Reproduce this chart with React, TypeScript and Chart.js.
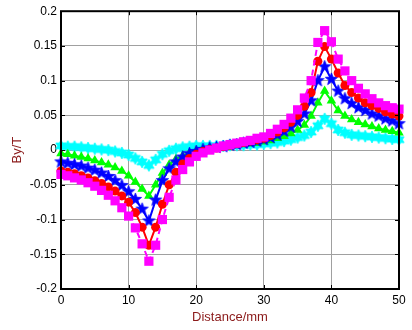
import React, { useEffect, useRef } from "react";
import { Chart, registerables } from "chart.js";

Chart.register(...registerables);

const distance = [
  0, 1, 2, 3, 4, 5, 6, 7, 8, 9, 10, 11, 12, 13, 14, 15, 16, 17, 18, 19, 20,
  21, 22, 23, 24, 25, 26, 27, 28, 29, 30, 31, 32, 33, 34, 35, 36, 37, 38, 39,
  40, 41, 42, 43, 44, 45, 46, 47, 48, 49, 50,
];

const magentaSeries = [
  -0.035, -0.037, -0.04, -0.043, -0.047, -0.052, -0.058, -0.065, -0.073, -0.083,
  -0.095, -0.112, -0.135, -0.16, -0.137, -0.1, -0.068, -0.043, -0.028, -0.017,
  -0.009, -0.004, 0.0, 0.003, 0.006, 0.008, 0.01, 0.012, 0.014, 0.017,
  0.019, 0.024, 0.03, 0.037, 0.046, 0.058, 0.075, 0.1, 0.155, 0.172,
  0.156, 0.131, 0.114, 0.1, 0.089, 0.081, 0.074, 0.068, 0.064, 0.061, 0.059,
];

const redSeries = [
  -0.03, -0.032, -0.034, -0.037, -0.04, -0.044, -0.048, -0.053, -0.059, -0.066,
  -0.075, -0.09, -0.111, -0.137, -0.111, -0.078, -0.05, -0.032, -0.02, -0.012,
  -0.006, -0.002, 0.001, 0.003, 0.005, 0.007, 0.009, 0.011, 0.013, 0.015,
  0.017, 0.021, 0.026, 0.032, 0.04, 0.05, 0.063, 0.083, 0.128, 0.149,
  0.131, 0.111, 0.093, 0.083, 0.075, 0.068, 0.064, 0.06, 0.055, 0.052, 0.049,
];

const blueSeries = [
  -0.017, -0.019, -0.021, -0.023, -0.026, -0.029, -0.033, -0.038, -0.044, -0.051,
  -0.06, -0.071, -0.085, -0.102, -0.072, -0.044, -0.027, -0.017, -0.01, -0.005,
  -0.002, 0.001, 0.003, 0.004, 0.005, 0.007, 0.008, 0.01, 0.011, 0.013,
  0.015, 0.018, 0.022, 0.027, 0.033, 0.041, 0.052, 0.071, 0.1, 0.12,
  0.102, 0.085, 0.074, 0.067, 0.061, 0.057, 0.052, 0.049, 0.045, 0.042, 0.038,
];

const greenSeries = [
  -0.005, -0.006, -0.008, -0.01, -0.012, -0.015, -0.018, -0.021, -0.025, -0.03,
  -0.037, -0.046, -0.056, -0.066, -0.05, -0.033, -0.021, -0.013, -0.008, -0.004,
  -0.001, 0.001, 0.003, 0.004, 0.005, 0.006, 0.007, 0.008, 0.009, 0.01,
  0.012, 0.014, 0.017, 0.02, 0.024, 0.029, 0.036, 0.049, 0.068, 0.085,
  0.071, 0.057, 0.049, 0.044, 0.04, 0.037, 0.034, 0.031, 0.029, 0.027, 0.025,
];

const cyanSeries = [
  0.006, 0.005, 0.005, 0.004, 0.003, 0.002, 0.001, 0.0, -0.002, -0.004,
  -0.007, -0.012, -0.017, -0.022, -0.014, -0.006, -0.001, 0.002, 0.004, 0.005,
  0.006, 0.006, 0.006, 0.006, 0.006, 0.007, 0.007, 0.007, 0.008, 0.008,
  0.009, 0.01, 0.011, 0.013, 0.015, 0.018, 0.021, 0.026, 0.035, 0.045,
  0.038, 0.029, 0.025, 0.022, 0.021, 0.02, 0.019, 0.018, 0.017, 0.016, 0.015,
];

const xTicks = [0, 10, 20, 30, 40, 50];
const yTicks = [-0.2, -0.15, -0.1, -0.05, 0, 0.05, 0.1, 0.15, 0.2];

const FONT = '"Liberation Sans", Arial, Helvetica, sans-serif';
const TITLE_COLOR = "#8b1a1a";

function makeStar(n: number, outer: number, inner: number, color: string) {
  const size = Math.ceil(outer * 2 + 2);
  const c = document.createElement("canvas");
  c.width = size;
  c.height = size;
  const ctx = c.getContext("2d")!;
  ctx.translate(size / 2, size / 2);
  ctx.beginPath();
  for (let i = 0; i < 2 * n; i++) {
    const r = i % 2 === 0 ? outer : inner;
    const a = -Math.PI / 2 + (i * Math.PI) / n;
    const px = r * Math.cos(a);
    const py = r * Math.sin(a);
    if (i === 0) ctx.moveTo(px, py);
    else ctx.lineTo(px, py);
  }
  ctx.closePath();
  ctx.fillStyle = color;
  ctx.fill();
  ctx.strokeStyle = color;
  ctx.lineWidth = 0.8;
  ctx.stroke();
  return c;
}

const framePlugin = {
  id: "matlabFrame",
  afterDraw(chart: any) {
    const { ctx, chartArea, scales } = chart;
    const { left, right, top, bottom } = chartArea;
    ctx.save();
    ctx.strokeStyle = "#000";
    ctx.lineWidth = 1;
    ctx.beginPath();
    xTicks.forEach((v) => {
      const px = Math.round(scales.x.getPixelForValue(v)) + 0.5;
      ctx.moveTo(px, bottom);
      ctx.lineTo(px, bottom - 4);
      ctx.moveTo(px, top);
      ctx.lineTo(px, top + 4);
    });
    yTicks.forEach((v) => {
      const py = Math.round(scales.y.getPixelForValue(v)) + 0.5;
      ctx.moveTo(left, py);
      ctx.lineTo(left + 4, py);
      ctx.moveTo(right, py);
      ctx.lineTo(right - 4, py);
    });
    ctx.stroke();
    ctx.lineWidth = 2;
    ctx.strokeRect(left, top, right - left, bottom - top);
    ctx.restore();
  },
};

export default function App() {
  const canvasRef = useRef<HTMLCanvasElement | null>(null);

  useEffect(() => {
    const canvas = canvasRef.current;
    if (!canvas) return;

    const toPoints = (vals: number[]) =>
      distance.map((d, i) => ({ x: d, y: vals[i] }));

    const pentagram = makeStar(5, 6.5, 2.7, "#0000ff");
    const hexagram = makeStar(6, 6, 3.4, "#00ffff");

    const chart = new Chart(canvas, {
      type: "line",
      data: {
        datasets: [
          {
            data: toPoints(magentaSeries),
            borderColor: "#ff00ff",
            backgroundColor: "#ff00ff",
            borderWidth: 2,
            borderDash: [6, 4],
            pointStyle: "rect",
            pointRadius: 6.5,
            pointBorderWidth: 0,
            pointBackgroundColor: "#ff00ff",
            clip: false,
          },
          {
            data: toPoints(redSeries),
            borderColor: "#ff0000",
            backgroundColor: "#ff0000",
            borderWidth: 2,
            pointStyle: "circle",
            pointRadius: 4.5,
            pointBorderWidth: 0,
            pointBackgroundColor: "#ff0000",
            clip: false,
          },
          {
            data: toPoints(blueSeries),
            borderColor: "#0000ff",
            backgroundColor: "#0000ff",
            borderWidth: 2,
            pointStyle: pentagram as any,
            pointRadius: 5,
            clip: false,
          },
          {
            data: toPoints(greenSeries),
            borderColor: "#00ff00",
            backgroundColor: "#00ff00",
            borderWidth: 2,
            pointStyle: "triangle",
            pointRadius: 5.5,
            pointBorderWidth: 0,
            pointBackgroundColor: "#00ff00",
            clip: false,
          },
          {
            data: toPoints(cyanSeries),
            borderColor: "#00ffff",
            backgroundColor: "#00ffff",
            borderWidth: 2,
            pointStyle: hexagram as any,
            pointRadius: 5,
            clip: false,
          },
        ],
      },
      options: {
        animation: false,
        responsive: false,
        maintainAspectRatio: false,
        events: [],
        layout: { padding: { top: 10, right: 13, left: 0, bottom: 0 } },
        plugins: {
          legend: { display: false },
          tooltip: { enabled: false },
        },
        scales: {
          x: {
            type: "linear",
            min: 0,
            max: 50,
            afterFit: (s: any) => {
              s.height = 41;
            },
            afterBuildTicks: (s: any) => {
              s.ticks = xTicks.map((v) => ({ value: v }));
            },
            grid: { color: "#a0a0a0", lineWidth: 1, drawTicks: false },
            border: { display: false },
            ticks: {
              padding: 4,
              color: "#000",
              maxRotation: 0,
              font: { family: FONT, size: 12 },
              callback: (v: any) => String(v),
            },
            title: {
              display: true,
              text: "Distance/mm",
              color: TITLE_COLOR,
              font: { family: FONT, size: 13 },
              padding: { top: 0, bottom: 5 },
            },
          },
          y: {
            type: "linear",
            min: -0.2,
            max: 0.2,
            afterFit: (s: any) => {
              s.width = 61;
            },
            afterBuildTicks: (s: any) => {
              s.ticks = yTicks.map((v) => ({ value: v }));
            },
            grid: { color: "#a0a0a0", lineWidth: 1, drawTicks: false },
            border: { display: false },
            ticks: {
              padding: 4,
              color: "#000",
              font: { family: FONT, size: 12 },
              callback: (v: any) => String(Number(Number(v).toFixed(2))),
            },
            title: {
              display: true,
              text: "By/T",
              color: TITLE_COLOR,
              font: { family: FONT, size: 13 },
              padding: { top: 10, bottom: 0 },
            },
          },
        },
      },
      plugins: [framePlugin],
    });

    return () => chart.destroy();
  }, []);

  return (
    <div
      style={{
        position: "absolute",
        left: 0,
        top: 0,
        width: 412,
        height: 330,
        background: "#fff",
      }}
    >
      <canvas ref={canvasRef} width={412} height={330} />
    </div>
  );
}
